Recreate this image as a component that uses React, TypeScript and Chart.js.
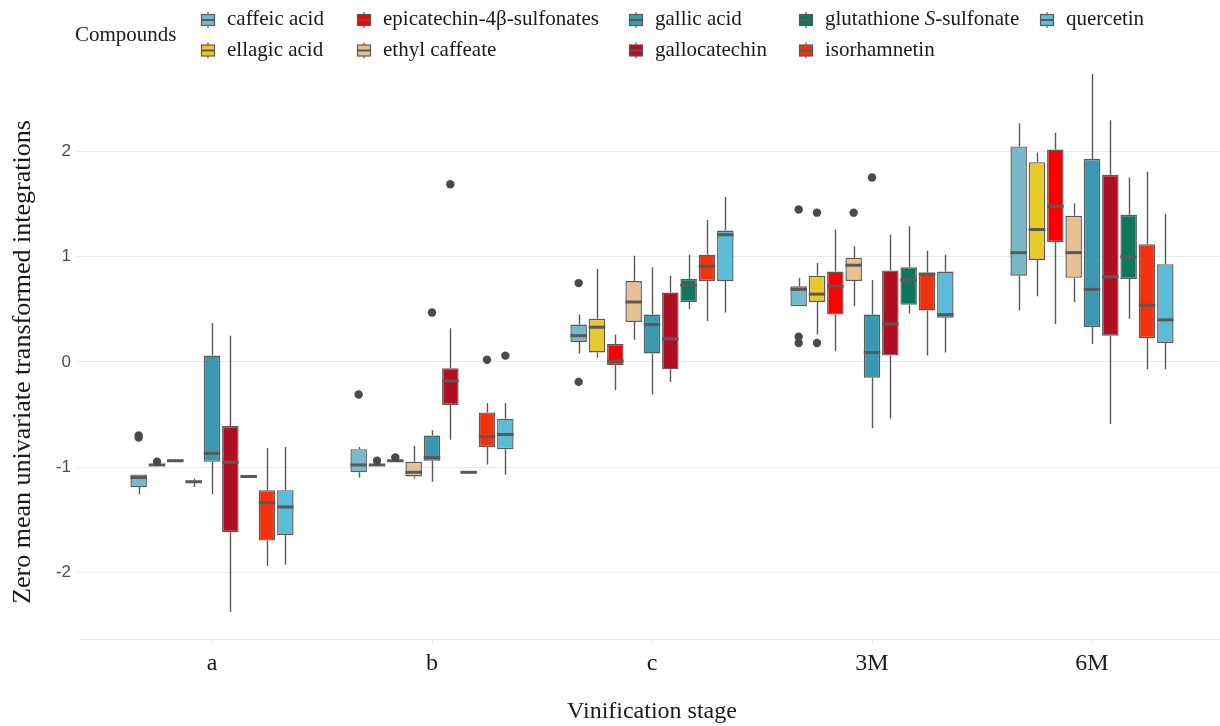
import React, { useEffect, useRef } from "react";
import { Chart, registerables } from "chart.js";

Chart.register(...registerables);

const SERIF = "'Liberation Serif', 'Times New Roman', Times, serif";
const SANS = "'Liberation Sans', Arial, Helvetica, sans-serif";

const STAGES = ["a", "b", "c", "3M", "6M"];
const COMPOUNDS = [
  "caffeic acid",
  "ellagic acid",
  "epicatechin-4β-sulfonates",
  "ethyl caffeate",
  "gallic acid",
  "gallocatechin",
  "glutathione S-sulfonate",
  "isorhamnetin",
  "quercetin",
];
const COLORS = [
  "#79b8c8",
  "#e8c92a",
  "#ff0000",
  "#e9bf94",
  "#3a99b1",
  "#b00f22",
  "#0d765b",
  "#f0330f",
  "#5bbcd7",
];
const Y_TICKS = [-2, -1, 0, 1, 2];

// each row: [lower whisker, Q1, median, Q3, upper whisker] for stages a, b, c, 3M, 6M
const caffeicAcid = [
  [-1.26, -1.19, -1.1, -1.07, -1.07],
  [-1.1, -1.05, -0.98, -0.83, -0.81],
  [0.08, 0.19, 0.25, 0.355, 0.45],
  [0.53, 0.53, 0.69, 0.72, 0.8],
  [0.49, 0.82, 1.04, 2.05, 2.27],
];
const ellagicAcid = [
  [-0.985, -0.985, -0.98, -0.975, -0.975],
  [-0.985, -0.985, -0.98, -0.975, -0.975],
  [0.04, 0.09, 0.33, 0.41, 0.885],
  [0.26, 0.57, 0.645, 0.82, 0.94],
  [0.625, 0.97, 1.26, 1.9, 1.99],
];
const epicatechinSulfonates = [
  [-0.955, -0.945, -0.94, -0.935, -0.925],
  [-0.945, -0.945, -0.94, -0.935, -0.935],
  [-0.27, -0.03, 0.01, 0.17, 0.26],
  [0.105, 0.45, 0.72, 0.86, 1.26],
  [0.36, 1.14, 1.48, 2.02, 2.18],
];
const ethylCaffeate = [
  [-1.19, -1.15, -1.14, -1.13, -1.11],
  [-1.11, -1.09, -1.05, -0.95, -0.8],
  [0.21, 0.38, 0.57, 0.77, 1.01],
  [0.53, 0.77, 0.92, 0.99, 1.1],
  [0.57, 0.8, 1.04, 1.39, 1.51],
];
const gallicAcid = [
  [-1.26, -0.95, -0.87, 0.06, 0.37],
  [-1.14, -0.94, -0.91, -0.7, -0.65],
  [-0.31, 0.08, 0.355, 0.45, 0.9],
  [-0.63, -0.15, 0.09, 0.45, 0.78],
  [0.17, 0.33, 0.69, 1.93, 2.74],
];
const gallocatechin = [
  [-2.38, -1.62, -0.955, -0.61, 0.25],
  [-0.74, -0.41, -0.18, -0.06, 0.32],
  [-0.19, -0.07, 0.22, 0.66, 0.82],
  [-0.54, 0.06, 0.36, 0.87, 1.21],
  [-0.59, 0.25, 0.81, 1.78, 2.3],
];
const glutathioneSulfonate = [
  [-1.095, -1.095, -1.09, -1.085, -1.085],
  [-1.055, -1.055, -1.05, -1.045, -1.045],
  [0.5, 0.57, 0.73, 0.79, 1.02],
  [0.46, 0.545, 0.78, 0.9, 1.29],
  [0.41, 0.79, 1.0, 1.4, 1.755],
];
const isorhamnetin = [
  [-1.94, -1.7, -1.34, -1.22, -0.82],
  [-0.975, -0.81, -0.71, -0.48, -0.39],
  [0.39, 0.77, 0.91, 1.02, 1.35],
  [0.06, 0.49, 0.835, 0.85, 1.06],
  [-0.07, 0.225, 0.54, 1.12, 1.81],
];
const quercetin = [
  [-1.93, -1.65, -1.38, -1.22, -0.81],
  [-1.07, -0.83, -0.69, -0.54, -0.39],
  [0.47, 0.77, 1.21, 1.25, 1.57],
  [0.09, 0.42, 0.45, 0.86, 1.02],
  [-0.07, 0.18, 0.4, 0.93, 1.41],
];

// outlying points for stages a, b, c, 3M, 6M
const caffeicAcidOutliers = [[-0.7, -0.72], [-0.31], [0.75, -0.19], [1.45, 0.24, 0.18], []];
const ellagicAcidOutliers = [[-0.95], [-0.94], [], [1.42, 0.18], []];
const epicatechinSulfonatesOutliers = [[], [-0.91], [], [], []];
const ethylCaffeateOutliers = [[], [], [], [1.42], []];
const gallicAcidOutliers = [[], [0.47], [], [1.755], []];
const gallocatechinOutliers = [[], [1.69], [], [], []];
const glutathioneSulfonateOutliers = [[], [], [], [], []];
const isorhamnetinOutliers = [[], [0.02], [], [], []];
const quercetinOutliers = [[], [0.06], [], [], []];

const BOXES = [
  caffeicAcid,
  ellagicAcid,
  epicatechinSulfonates,
  ethylCaffeate,
  gallicAcid,
  gallocatechin,
  glutathioneSulfonate,
  isorhamnetin,
  quercetin,
];
const OUTLIERS = [
  caffeicAcidOutliers,
  ellagicAcidOutliers,
  epicatechinSulfonatesOutliers,
  ethylCaffeateOutliers,
  gallicAcidOutliers,
  gallocatechinOutliers,
  glutathioneSulfonateOutliers,
  isorhamnetinOutliers,
  quercetinOutliers,
];

const LINE_COLOR = "#595959";

function drawLabel(ctx: CanvasRenderingContext2D, text: string, x: number, y: number) {
  // italicise a lone "S" before a hyphen (e.g. S-sulfonate)
  const parts = text.split(/(\bS(?=-))/);
  let cx = x;
  parts.forEach((p) => {
    if (!p) return;
    ctx.font = (p === "S" ? "italic " : "") + "21px " + SERIF;
    ctx.fillText(p, cx, y);
    cx += ctx.measureText(p).width;
  });
}

function drawKey(ctx: CanvasRenderingContext2D, cx: number, cy: number, color: string) {
  ctx.save();
  ctx.strokeStyle = LINE_COLOR;
  ctx.lineWidth = 1.2;
  ctx.beginPath();
  ctx.moveTo(cx, cy - 8);
  ctx.lineTo(cx, cy + 8);
  ctx.stroke();
  ctx.fillStyle = color;
  ctx.fillRect(cx - 6.5, cy - 5.5, 13, 11);
  ctx.strokeRect(cx - 6.5, cy - 5.5, 13, 11);
  ctx.lineWidth = 2;
  ctx.beginPath();
  ctx.moveTo(cx - 6.5, cy);
  ctx.lineTo(cx + 6.5, cy);
  ctx.stroke();
  ctx.restore();
}

const LEGEND_TEXT_X = [227, 383, 655, 825, 1066];
const LEGEND_BASELINE = [25, 56];
const LEGEND_KEY_Y = [20, 50.5];

const boxPlugin = {
  id: "boxParts",
  beforeDatasetsDraw(chart: any) {
    const ctx = chart.ctx;
    const ys = chart.scales.y;
    ctx.save();
    ctx.strokeStyle = LINE_COLOR;
    ctx.lineWidth = 1.4;
    BOXES.forEach((series, d) => {
      const meta = chart.getDatasetMeta(d);
      series.forEach((b, i) => {
        const el = meta.data[i];
        if (!el) return;
        const x = Math.round(el.x) + 0.5;
        ctx.beginPath();
        ctx.moveTo(x, ys.getPixelForValue(b[3]));
        ctx.lineTo(x, ys.getPixelForValue(b[4]));
        ctx.moveTo(x, ys.getPixelForValue(b[1]));
        ctx.lineTo(x, ys.getPixelForValue(b[0]));
        ctx.stroke();
      });
    });
    ctx.restore();
  },
  afterDatasetsDraw(chart: any) {
    const ctx = chart.ctx;
    const ys = chart.scales.y;
    ctx.save();
    BOXES.forEach((series, d) => {
      const meta = chart.getDatasetMeta(d);
      series.forEach((b, i) => {
        const el = meta.data[i];
        if (!el) return;
        const half = el.width / 2;
        const ym = ys.getPixelForValue(b[2]);
        ctx.strokeStyle = LINE_COLOR;
        ctx.lineWidth = 3;
        ctx.beginPath();
        ctx.moveTo(el.x - half, ym);
        ctx.lineTo(el.x + half, ym);
        ctx.stroke();
        ctx.fillStyle = "#4a4a4a";
        OUTLIERS[d][i].forEach((v) => {
          ctx.beginPath();
          ctx.arc(el.x, ys.getPixelForValue(v), 4.2, 0, Math.PI * 2);
          ctx.fill();
        });
      });
    });
    ctx.restore();
  },
  afterDraw(chart: any) {
    const ctx = chart.ctx;
    ctx.save();
    ctx.fillStyle = "#1a1a1a";
    ctx.textBaseline = "alphabetic";
    ctx.textAlign = "left";
    ctx.font = "21px " + SERIF;
    ctx.fillText("Compounds", 75, 41);
    COMPOUNDS.forEach((name, k) => {
      const col = Math.floor(k / 2);
      const row = k % 2;
      const tx = LEGEND_TEXT_X[col];
      drawKey(ctx, tx - 19, LEGEND_KEY_Y[row], COLORS[k]);
      ctx.fillStyle = "#1a1a1a";
      drawLabel(ctx, name, tx, LEGEND_BASELINE[row]);
    });
    // y axis title
    const ya = chart.chartArea;
    ctx.translate(23, (ya.top + ya.bottom) / 2 + 19);
    ctx.rotate(-Math.PI / 2);
    ctx.textAlign = "center";
    ctx.textBaseline = "middle";
    ctx.font = "26px " + SERIF;
    ctx.fillStyle = "#1a1a1a";
    ctx.fillText("Zero mean univariate transformed integrations", 0, 0);
    ctx.restore();
  },
};

export default function App() {
  const ref = useRef<HTMLCanvasElement | null>(null);

  useEffect(() => {
    if (!ref.current) return;
    const datasets = BOXES.map((series, d) => ({
      label: COMPOUNDS[d],
      data: series.map((b, i) => ({ x: i, y: [b[1], b[3]] })),
      backgroundColor: COLORS[d],
      borderColor: LINE_COLOR,
      borderWidth: 1.4,
      borderSkipped: false,
      categoryPercentage: 0.75,
      barPercentage: 0.9,
    }));
    const chart = new Chart(ref.current, {
      type: "bar",
      data: { datasets } as any,
      plugins: [boxPlugin],
      options: {
        responsive: false,
        animation: false,
        layout: { padding: { top: 47, right: 2, left: 0, bottom: 0 } },
        plugins: {
          legend: { display: false },
          tooltip: { enabled: false },
          title: { display: false },
        },
        scales: {
          x: {
            type: "linear",
            offset: false,
            min: -0.6,
            max: 4.6,
            afterBuildTicks: (s: any) => {
              s.ticks = STAGES.map((_, i) => ({ value: i }));
            },
            afterFit: (s: any) => {
              s.height = 87;
            },
            ticks: {
              callback: (v: any) => STAGES[v] ?? "",
              font: { family: SERIF, size: 24 },
              color: "#1a1a1a",
              padding: 6,
              autoSkip: false,
              maxRotation: 0,
            },
            grid: {
              offset: false,
              drawOnChartArea: false,
              drawTicks: true,
              tickLength: 4,
              color: "#e3e3e3",
            },
            border: { display: true, color: "#e6e6e6", width: 1 },
            title: {
              display: true,
              text: "Vinification stage",
              font: { family: SERIF, size: 24 },
              color: "#1a1a1a",
              padding: { top: 0, bottom: 0 },
            },
          },
          y: {
            type: "linear",
            min: -2.636,
            max: 2.996,
            afterBuildTicks: (s: any) => {
              s.ticks = Y_TICKS.map((v) => ({ value: v }));
            },
            afterFit: (s: any) => {
              s.width = 80;
            },
            ticks: {
              font: { family: SANS, size: 17 },
              color: "#4d4d4d",
              padding: 6,
              callback: (v: any) => String(v),
            },
            grid: { color: "#ebebeb", lineWidth: 1, drawTicks: true, tickLength: 3 },
            border: { display: false },
          },
        },
      } as any,
    });
    return () => chart.destroy();
  }, []);

  return (
    <div
      style={{
        position: "fixed",
        left: 0,
        top: 0,
        width: 1220,
        height: 726,
        overflow: "hidden",
        background: "#ffffff",
      }}
    >
      <canvas ref={ref} width={1226} height={726} style={{ display: "block" }} />
    </div>
  );
}
